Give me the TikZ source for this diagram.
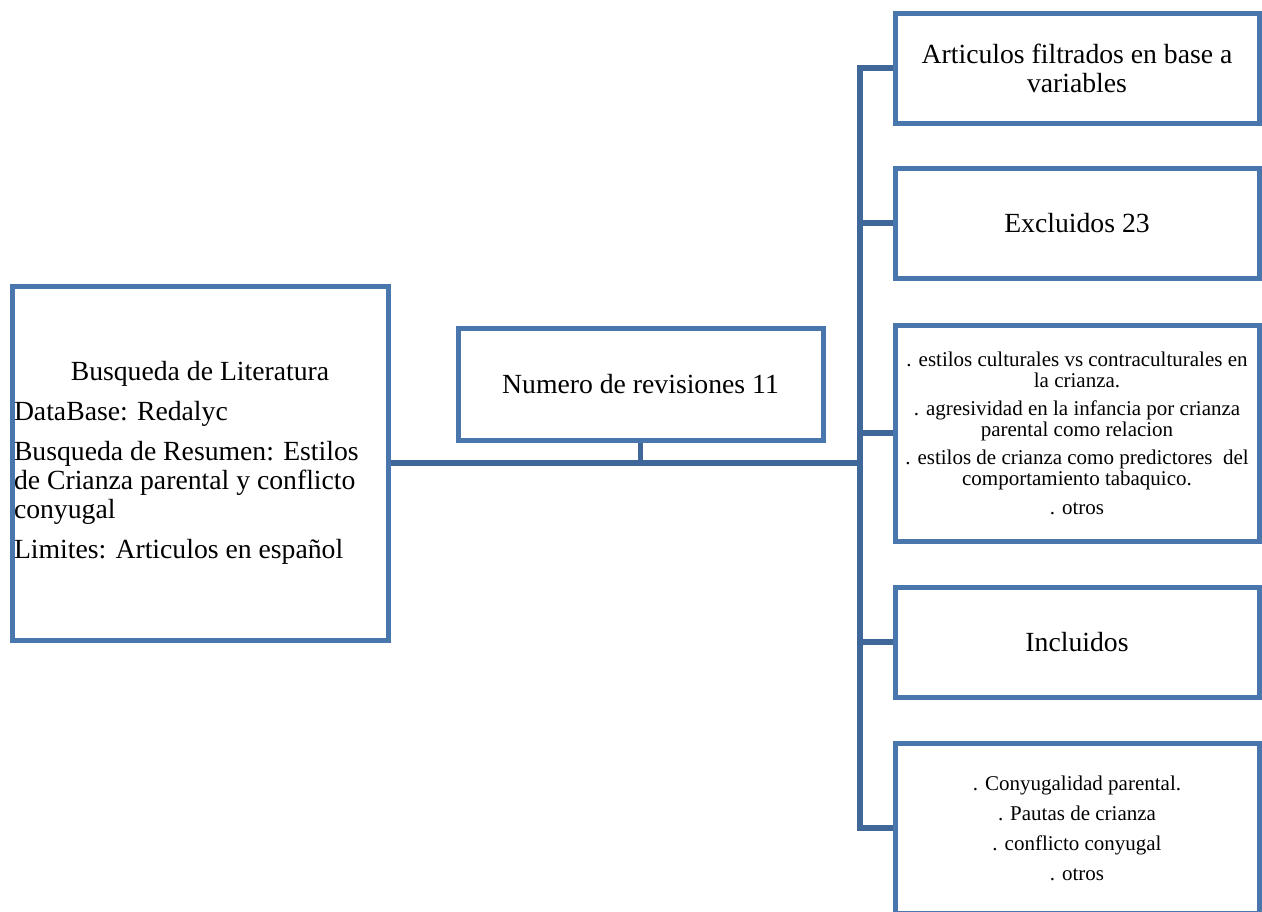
\documentclass[tikz,border=0pt]{standalone}
\usepackage{fontspec}
\setmainfont{Liberation Serif}
\definecolor{boxblue}{RGB}{74,118,174}
\definecolor{lineblue}{RGB}{64,103,154}
\newcommand\bigtxt{\fontsize{27.7}{29}\selectfont}
\newcommand\smalltxt{\fontsize{21}{21.5}\selectfont}
\tikzset{
  box/.style={draw=boxblue, line width=5pt, fill=white, rectangle, inner sep=0pt, align=center, font=\bigtxt},
  conn/.style={draw=lineblue, line width=5.5pt}
}
\begin{document}
\begin{tikzpicture}[x=1pt,y=-1pt]
\useasboundingbox (0,0) rectangle (1262,911);
% junction coordinates
\coordinate (j) at (860,463);
% left box
\node[box, minimum width=376pt, minimum height=354pt, text width=372pt, align=none] (lit) at (200,463) {%
  \parindent=0pt\setlength\parskip{11pt}%
  \centering Busqueda de Literatura\par
  \raggedright DataBase: Redalyc\par
  Busqueda de Resumen: Estilos\newline de Crianza parental y conflicto\newline conyugal\par
  Limites: Articulos en español\par};
% middle box
\node[box, minimum width=365pt, minimum height=112pt] (rev) at (640.5,384) {Numero de revisiones 11};
% right boxes
\node[box, minimum width=364pt, minimum height=110pt] (r1) at (1077,68) {Articulos filtrados en base a\\variables};
\node[box, minimum width=364pt, minimum height=110pt] (r2) at (1077,223) {Excluidos 23};
\node[box, minimum width=364pt, minimum height=216pt, font=\smalltxt] (r3) at (1077,433) {%
  . estilos culturales vs contraculturales en\\la crianza.\\[6pt]
  . agresividad en la infancia por crianza\\parental como relacion\\[6pt]
  . estilos de crianza como predictores\ \ del\\comportamiento tabaquico.\\[7pt]
  . otros};
\node[box, minimum width=364pt, minimum height=110pt] (r4) at (1077,642) {Incluidos};
\node[box, minimum width=364pt, minimum height=170pt, font=\fontsize{21}{30}\selectfont] (r5) at (1077,828) {%
  . Conyugalidad parental.\\. Pautas de crianza\\. conflicto conyugal\\. otros};
% connectors
\draw[conn] (lit.east) -- (j);
\draw[conn] (rev.south) -- (rev.south |- j);
\draw[conn] (r1.west) -- (r1.west -| j) -- (r5.west -| j) -- (r5.west);
\draw[conn] (r2.west) -- (r2.west -| j);
\draw[conn] (r3.west) -- (r3.west -| j);
\draw[conn] (r4.west) -- (r4.west -| j);
\end{tikzpicture}
\end{document}
